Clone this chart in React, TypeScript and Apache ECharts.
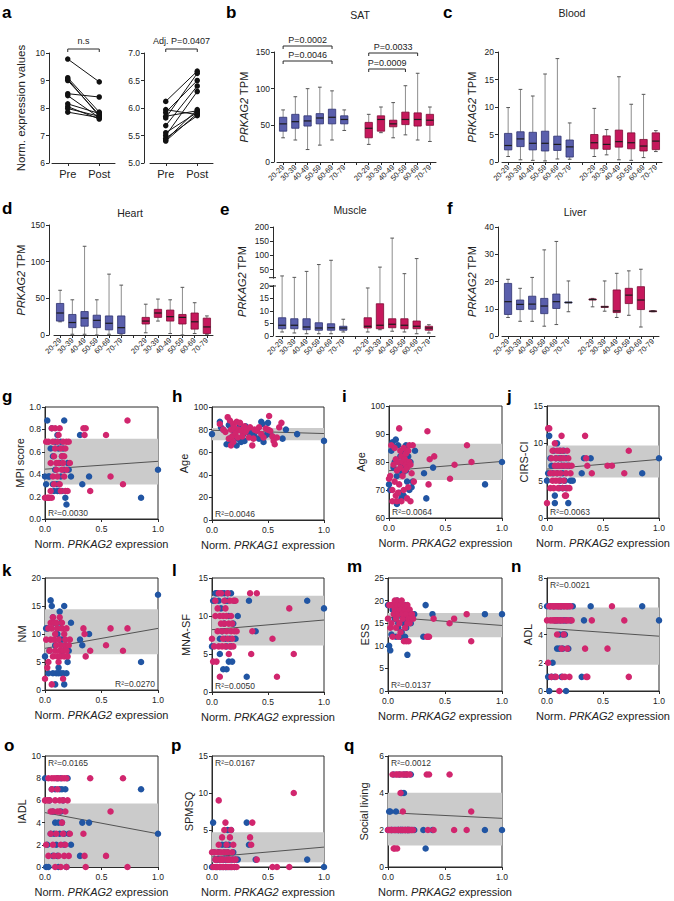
import React, { useEffect, useRef } from 'react';
import * as echarts from 'echarts';

const FONT = "'Liberation Sans', Arial, Helvetica, sans-serif";
const AXIS = '#2b2b2b';
const TXT = '#222222';
const BLUE_BOX = '#5a5fac';
const BLUE_EDGE = '#2f3270';
const RED_BOX = '#c6185c';
const RED_EDGE = '#7d0c35';
const WHISKER = '#8d8d8d';
const CAP = '#555555';
const MEDIAN = '#1c1c1c';
const BLUE_DOT = '#2155a3';
const MAG_DOT = '#d1266e';
const BAND = '#cbcbcb';

// ---------- Panel a ----------
const A_TIMEPOINTS = ['Pre', 'Post'];
const A_LEFT_PRE = [9.78, 9.1, 9.05, 9.0, 8.52, 8.45, 8.15, 8.05, 7.98, 7.85];
const A_LEFT_POST = [8.95, 7.85, 7.7, 7.75, 8.4, 7.65, 7.8, 7.6, 7.7, 7.65];
const A_RIGHT_PRE = [6.12, 5.97, 5.92, 5.85, 5.82, 5.68, 5.55, 5.5, 5.45, 5.42, 5.4];
const A_RIGHT_POST = [6.67, 5.88, 6.5, 5.95, 6.63, 6.4, 5.92, 6.3, 5.86, 5.97, 5.9];

// ---------- Box panels (min, q1, median, q3, max) ----------
const AGE_GROUPS = ['20-29', '30-39', '40-49', '50-59', '60-69', '70-79'];
const BOX_LABELS = [...AGE_GROUPS, '', ...AGE_GROUPS];

const SAT_BLUE = [[33, 42, 52, 61, 71], [30, 46, 55, 65, 89], [17, 49, 56, 63, 100], [23, 52, 60, 66, 102], [30, 52, 61, 72, 97], [43, 52, 58, 63, 71]];
const SAT_RED = [[24, 33, 46, 54, 65], [40, 42, 58, 63, 75], [33, 48, 52, 57, 81], [37, 51, 58, 68, 104], [30, 49, 58, 67, 121], [28, 50, 57, 65, 75]];
const BLOOD_BLUE = [[1.0, 2.2, 3.0, 5.2, 9.9], [0.4, 2.8, 4.2, 5.5, 13.2], [0.3, 2.2, 3.4, 5.4, 12.0], [0.2, 2.0, 3.4, 5.6, 16.0], [0.55, 2.1, 3.2, 4.7, 18.8], [0.5, 0.9, 2.75, 4.0, 7.1]];
const BLOOD_RED = [[1.0, 2.4, 3.5, 5.0, 9.75], [1.3, 2.3, 3.2, 4.75, 5.9], [0.4, 2.7, 3.7, 5.8, 15.5], [0.3, 2.4, 3.5, 5.3, 10.5], [0.8, 2.0, 2.9, 4.1, 12.3], [1.9, 2.25, 3.8, 5.3, 5.7]];
const HEART_BLUE = [[18, 19, 30, 43, 61], [1, 10, 17, 28, 48], [1, 12, 23, 32, 121], [0, 10, 20, 27, 48], [1, 7, 16, 26, 83], [0, 2, 10, 26, 68]];
const HEART_RED = [[3, 15, 19, 24, 42], [19, 24, 30, 35, 49], [2, 19, 25, 34, 48], [0, 15, 24, 28, 65], [2, 8, 18, 30, 44], [1, 2, 11, 23, 26]];
const MUSCLE_BLUE = [[1.6, 2.9, 4.3, 7.3, 28], [1.2, 2.9, 4.3, 6.9, 23], [0.9, 2.5, 3.6, 6.9, 44], [0.9, 2.3, 3.2, 5.3, 68], [0.9, 2.3, 3.3, 4.9, 83], [1.6, 2.3, 3.2, 3.9, 6.7]];
const MUSCLE_RED = [[1.6, 3.2, 3.9, 7.3, 19.2], [2.5, 2.9, 4.3, 12.9, 59], [1.9, 3.3, 4.7, 6.9, 161], [1.6, 2.9, 4.3, 6.9, 36], [0.9, 2.9, 3.9, 6.0, 89], [1.2, 2.3, 3.2, 3.9, 4.5]];
const LIVER_BLUE = [[6.8, 7.9, 12.6, 19.3, 20.8], [5.4, 9.7, 11.6, 13.2, 17.5], [5.4, 9.8, 11.7, 14.6, 21.5], [3.6, 8.2, 11.0, 13.8, 31.6], [4.2, 10.1, 12.6, 15.4, 34.7], [8.9, 12.1, 12.3, 12.5, 20.2]];
const LIVER_RED = [[10.7, 13.2, 13.4, 13.6, 13.8], [9.1, 10.5, 10.7, 10.9, 20.2], [6.8, 8.6, 9.2, 16.9, 23.0], [7.6, 11.9, 15.0, 17.5, 23.9], [3.3, 9.7, 13.2, 18.1, 24.5], [8.9, 9.0, 9.1, 9.2, 9.3]];
const MUSCLE_TICKS = [0, 5, 10, 15, 20, 50, 100, 150, 200];

// ---------- Scatter panels ----------
const X_BLUE = [0.00, 0.01, 0.02, 0.03, 0.04, 0.05, 0.06, 0.07, 0.07, 0.08, 0.09, 0.09, 0.10, 0.11, 0.11, 0.12, 0.12, 0.13, 0.13, 0.14, 0.14, 0.15, 0.15, 0.16, 0.17, 0.17, 0.18, 0.19, 0.20, 0.21, 0.23, 0.31, 0.33, 0.39, 0.85, 1.00];
const X_MAG = [0.00, 0.01, 0.02, 0.03, 0.03, 0.04, 0.05, 0.05, 0.06, 0.06, 0.07, 0.07, 0.08, 0.08, 0.09, 0.09, 0.10, 0.10, 0.11, 0.11, 0.12, 0.12, 0.13, 0.13, 0.14, 0.14, 0.15, 0.15, 0.16, 0.16, 0.17, 0.17, 0.18, 0.18, 0.19, 0.19, 0.20, 0.21, 0.22, 0.34, 0.35, 0.36, 0.40, 0.54, 0.58, 0.69, 0.73];

const MPI_BLUE = [0.38, 0.31, 0.88, 0.38, 0.38, 0.63, 0.81, 0.31, 0.56, 0.25, 0.69, 0.44, 0.31, 0.75, 0.25, 0.31, 0.63, 0.50, 0.25, 0.69, 0.38, 0.25, 0.56, 0.63, 0.44, 0.88, 0.19, 0.13, 0.50, 0.44, 0.38, 0.75, 0.31, 0.38, 0.19, 0.44];
const MPI_MAG = [0.19, 0.69, 0.19, 0.19, 0.69, 0.19, 0.50, 0.25, 0.19, 0.81, 0.38, 0.69, 0.56, 0.31, 0.81, 0.63, 0.44, 0.50, 0.69, 0.38, 0.50, 0.75, 0.81, 0.31, 0.63, 0.25, 0.56, 0.44, 0.69, 0.50, 0.38, 0.56, 0.63, 0.25, 0.69, 0.44, 0.25, 0.69, 0.50, 0.81, 0.75, 0.81, 0.25, 0.75, 0.38, 0.31, 0.88];
const AGE_BLUE = [72, 70, 84, 87, 78, 80, 88, 75, 65, 86, 77, 69, 82, 79, 67, 84, 76, 80, 68, 78, 83, 86, 77, 73, 79, 82, 70, 80, 71, 73, 84, 76, 67, 78, 72, 80];
const AGE_MAG = [74, 75, 86, 70, 66, 79, 73, 85, 68, 81, 66, 77, 80, 69, 92, 72, 84, 78, 66, 82, 80, 75, 70, 85, 81, 77, 79, 83, 67, 78, 84, 71, 80, 86, 66, 79, 76, 86, 73, 91, 72, 81, 82, 74, 79, 86, 80];
const CIRS_BLUE = [5, 6, 11, 8, 7, 6, 9, 3, 2, 8, 10, 6, 7, 8, 4, 9, 5, 7, 8, 4, 6, 9, 7, 5, 8, 4, 7, 2, 7, 5, 5, 6, 8, 8, 6, 8];
const CIRS_MAG = [2, 12, 12, 6, 4, 8, 5, 9, 6, 4, 10, 7, 5, 8, 9, 6, 7, 4, 5, 9, 8, 6, 11, 7, 4, 9, 8, 5, 3, 7, 6, 3, 9, 4, 8, 7, 4, 6, 7, 11, 8, 7, 6, 7, 7, 6, 9];
const NM_BLUE = [6, 11, 11, 3, 7, 16, 15, 3, 13, 12, 8, 1, 3, 10, 11, 3, 4, 9, 14, 12, 3, 7, 9, 3, 15, 1, 8, 3, 5, 7, 12, 9, 8, 10, 5, 17];
const NM_MAG = [2, 9, 4, 11, 5, 7, 9, 12, 1, 11, 13, 6, 9, 12, 10, 7, 12, 8, 6, 11, 9, 5, 13, 7, 6, 8, 11, 12, 2, 7, 10, 6, 9, 8, 7, 11, 6, 8, 9, 11, 10, 6, 7, 8, 11, 7, 11];
const MNA_BLUE = [6, 12, 12, 13, 13, 13, 12, 7, 5, 11, 13, 8, 3, 13, 9, 12, 7, 6, 3, 13, 12, 4, 10, 7, 6, 13, 4, 9, 12, 7, 10, 2, 12, 8, 12, 11];
const MNA_MAG = [7, 4, 6, 12, 10, 4, 8, 11, 13, 6, 10, 2, 9, 13, 6, 8, 10, 7, 12, 9, 6, 11, 8, 10, 7, 13, 5, 9, 6, 12, 8, 10, 7, 9, 12, 6, 8, 12, 8, 13, 5, 8, 13, 7, 2, 11, 5];
const ESS_BLUE = [19, 10, 9, 12.5, 18, 19, 16, 12, 18, 20, 14, 15, 17, 12, 19, 18, 13, 16, 18, 15, 17, 12, 19, 14, 16, 8, 17, 16, 15, 17, 17, 12, 19, 17, 17, 17];
const ESS_MAG = [16, 19, 14, 15, 19, 12, 17, 19, 20, 18, 16, 14, 20, 19, 12, 17, 18, 15, 19, 13, 18, 20, 16, 17, 11, 19, 18, 14, 11, 17, 15, 19, 16, 11, 18, 15, 16, 17, 16, 12, 12, 12, 16, 15, 16, 17, 11];
const ADL_BLUE = [6, 1, 0, 6, 1, 2, 6, 5, 1, 6, 3, 5, 6, 4, 3, 6, 5, 1, 6, 4, 3, 5, 6, 4, 5, 0, 6, 3, 6, 5, 6, 1, 5, 6, 6, 5];
const ADL_MAG = [5, 2, 6, 5, 6, 1, 6, 5, 6, 6, 5, 6, 1, 5, 6, 4, 6, 5, 6, 0, 6, 5, 3, 6, 1, 5, 6, 4, 6, 1, 5, 6, 3, 6, 5, 6, 1, 6, 5, 3, 1, 1, 5, 3, 6, 5, 1];
const IADL_BLUE = [8, 0, 2, 0, 6, 3, 7, 5, 1, 3, 4, 7, 2, 8, 1, 4, 0, 7, 3, 5, 8, 4, 7, 6, 3, 2, 7, 0, 8, 3, 2, 1, 4, 4, 7, 3];
const IADL_MAG = [6, 2, 6, 1, 8, 6, 3, 5, 7, 8, 5, 2, 8, 1, 6, 0, 8, 3, 5, 7, 1, 8, 6, 5, 0, 2, 8, 4, 3, 6, 1, 8, 2, 5, 0, 8, 6, 1, 3, 3, 1, 0, 8, 1, 5, 8, 0];
const SPMSQ_BLUE = [0, 6, 2, 1, 0, 1, 2, 0, 1, 0, 1, 3, 0, 2, 1, 0, 3, 0, 1, 2, 5, 3, 1, 0, 0, 5, 1, 2, 0, 1, 1, 6, 3, 1, 1, 0];
const SPMSQ_MAG = [2, 0, 2, 1, 0, 1, 2, 0, 3, 9, 1, 0, 2, 1, 0, 4, 1, 0, 5, 2, 0, 6, 1, 3, 0, 2, 1, 0, 4, 1, 0, 5, 2, 0, 1, 3, 0, 1, 0, 4, 3, 6, 1, 0, 0, 0, 10];
const SOCIAL_BLUE = [2, 3, 3, 2, 2, 5, 2, 2, 3, 2, 2, 2, 5, 2, 2, 2, 4, 2, 2, 5, 4, 2, 2, 5, 2, 2, 2, 2, 5, 2, 2, 2, 1, 2, 2, 2];
const SOCIAL_MAG = [2, 2, 2, 2, 2, 5, 2, 1, 2, 1, 5, 2, 1, 5, 2, 2, 5, 2, 4, 2, 5, 2, 3, 2, 2, 5, 2, 2, 5, 2, 2, 5, 2, 2, 5, 2, 2, 2, 2, 5, 2, 5, 2, 5, 2, 2, 3];

const H_BLUE_X = [0.00, 0.07, 0.08, 0.10, 0.13, 0.15, 0.16, 0.17, 0.18, 0.19, 0.20, 0.21, 0.22, 0.23, 0.25, 0.26, 0.27, 0.28, 0.29, 0.30, 0.32, 0.34, 0.36, 0.38, 0.40, 0.42, 0.44, 0.45, 0.46, 0.48, 0.50, 0.52, 0.55, 0.63, 0.66, 0.76, 1.00];
const H_BLUE_Y = [76, 87, 82, 80, 67, 84, 72, 70, 68, 74, 78, 79, 66, 72, 84, 69, 80, 76, 70, 83, 78, 78, 77, 74, 79, 72, 87, 85, 69, 75, 86, 76, 73, 72, 80, 76, 70];
const H_MAG_X = [0.07, 0.10, 0.12, 0.14, 0.15, 0.16, 0.17, 0.17, 0.18, 0.19, 0.19, 0.20, 0.21, 0.22, 0.23, 0.24, 0.25, 0.26, 0.27, 0.28, 0.29, 0.30, 0.31, 0.33, 0.34, 0.36, 0.37, 0.38, 0.40, 0.42, 0.44, 0.46, 0.48, 0.50, 0.51, 0.52, 0.54, 0.55, 0.56, 0.58, 0.60, 0.62];
const H_MAG_Y = [85, 80, 78, 91, 72, 88, 66, 80, 74, 85, 69, 82, 77, 87, 73, 80, 86, 79, 74, 81, 83, 78, 80, 73, 82, 66, 72, 80, 79, 82, 76, 73, 81, 80, 92, 79, 74, 70, 67, 73, 82, 86];

// regression line (y at x=0, y at x=1) and grey band (low, high)
const MPI_FIT = [0.445, 0.515], MPI_BAND = [0.307, 0.717];
const AGE1_FIT = [79.4, 76.5], AGE1_BAND = [70.5, 81.5];
const AGE_FIT = [76.9, 80.2], AGE_BAND = [73.6, 86.5];
const CIRS_FIT = [6.55, 7.85], CIRS_BAND = [5.43, 9.7];
const NM_FIT = [7.44, 11.0], NM_BAND = [6.4, 14.4];
const MNA_FIT = [8.2, 9.47], MNA_BAND = [6.13, 12.67];
const ESS_FIT = [16.35, 14.5], ESS_BAND = [11.9, 17.25];
const ADL_FIT = [4.44, 3.88], ADL_BAND = [1.85, 5.92];
const IADL_FIT = [4.9, 2.99], IADL_BAND = [0, 5.73];
const SPMSQ_FIT = [1.36, 2.69], SPMSQ_BAND = [0.63, 4.7];
const SOCIAL_FIT = [2.94, 2.63], SOCIAL_BAND = [1.16, 4.01];

function muscleScale(v: number) {
  if (v <= 20) return v;
  if (v <= 22) return 20 + (v - 20) * 1.665;
  return 23.33 + (v - 22) * 0.11378;
}

function buildOption() {
  const grid: any[] = [];
  const xAxis: any[] = [];
  const yAxis: any[] = [];
  const series: any[] = [];
  const graphic: any[] = [];

  const axLine = { show: true, onZero: false, lineStyle: { color: AXIS, width: 1 } };
  const tick = { show: true, length: 3, lineStyle: { color: AXIS, width: 1 } };
  const lab = (size: number, extra: any = {}) => ({ fontSize: size, color: TXT, fontFamily: FONT, ...extra });
  const text = (t: string, x: number, y: number, size: number, opts: any = {}) => ({
    type: 'text', x, y, z: 100, silent: true,
    style: { text: t, fill: TXT, fontSize: size, fontFamily: FONT, align: 'center', verticalAlign: 'middle', ...opts },
  });
  const addGrid = (g: any) => {
    grid.push(g);
    return grid.length - 1;
  };
  const bracket = (x0: number, x1: number, y: number, t: string, ty: number) => {
    graphic.push({ type: 'polyline', z: 100, silent: true, shape: { points: [[x0, y + 3], [x0, y], [x1, y], [x1, y + 3]] }, style: { stroke: AXIS, lineWidth: 1, fill: 'none' } });
    graphic.push(text(t, (x0 + x1) / 2, ty, 9));
  };

  // ---- panel a ----
  const aPanels = [
    { left: 52, offset: 3, pre: A_LEFT_PRE, post: A_LEFT_POST, min: 6, max: 10, interval: 1, dec: 0, name: 'Norm. expression values', note: 'n.s' },
    { left: 150, offset: 6, pre: A_RIGHT_PRE, post: A_RIGHT_POST, min: 5, max: 7, interval: 0.5, dec: 1, name: '', note: 'Adj. P=0.0407' },
  ];
  aPanels.forEach((p) => {
    const w = 63;
    const gi = addGrid({ left: p.left, top: 53, width: w, height: 110 });
    xAxis.push({ gridIndex: gi, type: 'category', data: A_TIMEPOINTS, axisLine: axLine, axisTick: { ...tick, alignWithLabel: true }, axisLabel: lab(11, { margin: 5 }), splitLine: { show: false } });
    yAxis.push({
      gridIndex: gi, type: 'value', min: p.min, max: p.max, interval: p.interval, offset: p.offset,
      axisLine: axLine, axisTick: tick, splitLine: { show: false },
      axisLabel: lab(8.5, { margin: 4, formatter: (v: number) => v.toFixed(p.dec) }),
      name: p.name, nameLocation: 'middle', nameGap: 22, nameTextStyle: lab(11.5),
    });
    p.pre.forEach((v, i) => {
      series.push({
        type: 'line', xAxisIndex: gi, yAxisIndex: gi, data: [v, p.post[i]], symbol: 'circle', symbolSize: 5.5,
        itemStyle: { color: '#111' }, lineStyle: { color: '#111', width: 1 }, silent: true, z: 3,
      });
    });
    const band = w / 2;
    bracket(p.left + band / 2, p.left + band * 1.5, 49, p.note, 41);
  });

  // ---- box panels ----
  const boxRender = (_params: any, api: any) => {
    const c = api.value(0);
    const lo = api.coord([c, api.value(1)]);
    const q1 = api.coord([c, api.value(2)]);
    const md = api.coord([c, api.value(3)]);
    const q3 = api.coord([c, api.value(4)]);
    const hi = api.coord([c, api.value(5)]);
    const grp = api.value(6);
    const x = lo[0];
    const bw = api.size([1, 0])[0] * 0.6;
    const cw = bw * 0.5;
    const fill = grp === 0 ? BLUE_BOX : RED_BOX;
    const stroke = grp === 0 ? BLUE_EDGE : RED_EDGE;
    return {
      type: 'group',
      children: [
        { type: 'line', shape: { x1: x, y1: hi[1], x2: x, y2: q3[1] }, style: { stroke: WHISKER, lineWidth: 1 } },
        { type: 'line', shape: { x1: x, y1: q1[1], x2: x, y2: lo[1] }, style: { stroke: WHISKER, lineWidth: 1 } },
        { type: 'line', shape: { x1: x - cw / 2, y1: hi[1], x2: x + cw / 2, y2: hi[1] }, style: { stroke: CAP, lineWidth: 1 } },
        { type: 'line', shape: { x1: x - cw / 2, y1: lo[1], x2: x + cw / 2, y2: lo[1] }, style: { stroke: CAP, lineWidth: 1 } },
        { type: 'rect', shape: { x: x - bw / 2, y: q3[1], width: bw, height: Math.max(q1[1] - q3[1], 0.8) }, style: { fill, stroke, lineWidth: 0.8 } },
        { type: 'line', shape: { x1: x - bw / 2, y1: md[1], x2: x + bw / 2, y2: md[1] }, style: { stroke: MEDIAN, lineWidth: 1.2 } },
      ],
    };
  };

  const BOX_PANELS: any[] = [
    { title: 'SAT', tx: 360, ty: 15, left: 277, top: 52, width: 159, height: 110, offset: 3, nameGap: 25, min: 0, max: 150, interval: 50, blue: SAT_BLUE, red: SAT_RED,
      brackets: [
        { t: 'P=0.0002', i0: 0, i1: 4, y: 46 },
        { t: 'P=0.0046', i0: 0, i1: 4, y: 61 },
        { t: 'P=0.0033', i0: 7, i1: 11, y: 53 },
        { t: 'P=0.0009', i0: 7, i1: 10, y: 69 },
      ] },
    { title: 'Blood', tx: 572, ty: 13, left: 502, top: 52, width: 160, height: 110, offset: 4, nameGap: 21, min: 0, max: 20, interval: 5, blue: BLOOD_BLUE, red: BLOOD_RED },
    { title: 'Heart', tx: 130, ty: 213, left: 54, top: 225, width: 159, height: 110, offset: 5, nameGap: 21, min: 0, max: 150, interval: 50, blue: HEART_BLUE, red: HEART_RED },
    { title: 'Muscle', tx: 350, ty: 210, left: 276, top: 227, width: 159, height: 109, offset: 3, nameGap: 26, broken: true, blue: MUSCLE_BLUE, red: MUSCLE_RED },
    { title: 'Liver', tx: 575, ty: 212, left: 502, top: 227, width: 157, height: 109, offset: 4, nameGap: 21, min: 0, max: 40, interval: 10, blue: LIVER_BLUE, red: LIVER_RED },
  ];

  BOX_PANELS.forEach((p) => {
    const gi = addGrid({ left: p.left, top: p.top, width: p.width, height: p.height });
    xAxis.push({
      gridIndex: gi, type: 'category', data: BOX_LABELS.map((_, i) => 'k' + i), boundaryGap: true,
      axisLine: axLine, axisTick: { ...tick, alignWithLabel: true, interval: 0 },
      axisLabel: lab(7.5, { rotate: 45, interval: 0, margin: 4, formatter: (_v: any, i: number) => BOX_LABELS[i] }),
      splitLine: { show: false },
    });
    const tf = p.broken ? muscleScale : (v: number) => v;
    const yA: any = {
      gridIndex: gi, type: 'value', offset: p.offset, axisLine: axLine, axisTick: tick, splitLine: { show: false },
      name: '{i|PRKAG2} TPM', nameLocation: 'middle', nameGap: p.nameGap,
      nameTextStyle: lab(11, { rich: { i: { fontStyle: 'italic', fontSize: 11, fontFamily: FONT, color: TXT } } }),
    };
    if (p.broken) {
      const mt = MUSCLE_TICKS.map(muscleScale);
      yA.min = 0;
      yA.max = muscleScale(200);
      yA.axisLabel = lab(8.5, {
        margin: 4, customValues: mt,
        formatter: (v: number) => {
          let best = 0;
          mt.forEach((t, i) => { if (Math.abs(t - v) < Math.abs(mt[best] - v)) best = i; });
          return String(MUSCLE_TICKS[best]);
        },
      });
      yA.axisTick = { ...tick, customValues: mt };
      // break marks on the axis
      const ax = p.left - p.offset;
      const yPix = (d: number) => p.top + p.height * (1 - d / yA.max);
      const yA0 = yPix(23.33), yB0 = yPix(20);
      graphic.push({ type: 'rect', z: 100, silent: true, shape: { x: ax - 2, y: yA0 + 1, width: 4, height: yB0 - yA0 - 2 }, style: { fill: '#fff' } });
      graphic.push({ type: 'line', z: 101, silent: true, shape: { x1: ax - 4, y1: yA0, x2: ax + 3, y2: yA0 }, style: { stroke: AXIS, lineWidth: 1 } });
      graphic.push({ type: 'line', z: 101, silent: true, shape: { x1: ax - 4, y1: yB0, x2: ax + 3, y2: yB0 }, style: { stroke: AXIS, lineWidth: 1 } });
    } else {
      yA.min = p.min;
      yA.max = p.max;
      yA.interval = p.interval;
      yA.axisLabel = lab(8.5, { margin: 4 });
    }
    yAxis.push(yA);

    const data: any[] = [];
    p.blue.forEach((s: number[], i: number) => data.push([i, ...s.map(tf), 0]));
    p.red.forEach((s: number[], i: number) => data.push([i + 7, ...s.map(tf), 1]));
    series.push({ type: 'custom', xAxisIndex: gi, yAxisIndex: gi, data, renderItem: boxRender, encode: { x: 0, y: [1, 2, 3, 4, 5] }, silent: true, z: 3 });

    graphic.push(text(p.title, p.tx, p.ty, 10.5));
    if (p.brackets) {
      const bandW = p.width / 13;
      p.brackets.forEach((b: any) => {
        const x0 = p.left + (b.i0 + 0.5) * bandW;
        const x1 = p.left + (b.i1 + 0.5) * bandW;
        bracket(x0, x1, b.y, b.t, b.y - 6);
      });
    }
  });

  // ---- scatter panels ----
  const SC: any[] = [
    { left: 45, top: 407, width: 113, height: 112, yName: 'MPI score', nameGap: 17, min: 0, max: 1, interval: 0.2, dec: 1, bx: X_BLUE, by: MPI_BLUE, mx: X_MAG, my: MPI_MAG, fit: MPI_FIT, band: MPI_BAND, r2: 'R²=0.0030', pos: 'bl', gene: 'PRKAG2' },
    { left: 212, top: 407, width: 112, height: 113, yName: 'Age', nameGap: 20, min: 0, max: 100, interval: 20, dec: 0, bx: H_BLUE_X, by: H_BLUE_Y, mx: H_MAG_X, my: H_MAG_Y, fit: AGE1_FIT, band: AGE1_BAND, r2: 'R²=0.0046', pos: 'bl', gene: 'PRKAG1' },
    { left: 389, top: 406, width: 113, height: 112, yName: 'Age', nameGap: 20, min: 60, max: 100, interval: 10, dec: 0, bx: X_BLUE, by: AGE_BLUE, mx: X_MAG, my: AGE_MAG, fit: AGE_FIT, band: AGE_BAND, r2: 'R²=0.0064', pos: 'bl', gene: 'PRKAG2' },
    { left: 547, top: 406, width: 112, height: 112, yName: 'CIRS-CI', nameGap: 17, min: 0, max: 15, interval: 5, dec: 0, bx: X_BLUE, by: CIRS_BLUE, mx: X_MAG, my: CIRS_MAG, fit: CIRS_FIT, band: CIRS_BAND, r2: 'R²=0.0063', pos: 'bl', gene: 'PRKAG2' },
    { left: 45, top: 578, width: 113, height: 112, yName: 'NM', nameGap: 17, min: 0, max: 20, interval: 5, dec: 0, bx: X_BLUE, by: NM_BLUE, mx: X_MAG, my: NM_MAG, fit: NM_FIT, band: NM_BAND, r2: 'R²=0.0270', pos: 'br', gene: 'PRKAG2' },
    { left: 212, top: 578, width: 112, height: 114, yName: 'MNA-SF', nameGap: 21, min: 0, max: 15, interval: 5, dec: 0, bx: X_BLUE, by: MNA_BLUE, mx: X_MAG, my: MNA_MAG, fit: MNA_FIT, band: MNA_BAND, r2: 'R²=0.0050', pos: 'bl', gene: 'PRKAG2' },
    { left: 388, top: 578, width: 114, height: 113, yName: 'ESS', nameGap: 17, min: 0, max: 25, interval: 5, dec: 0, bx: X_BLUE, by: ESS_BLUE, mx: X_MAG, my: ESS_MAG, fit: ESS_FIT, band: ESS_BAND, r2: 'R²=0.0137', pos: 'bl', gene: 'PRKAG2' },
    { left: 547, top: 578, width: 112, height: 113, yName: 'ADL', nameGap: 14, min: 0, max: 8, interval: 2, dec: 0, bx: X_BLUE, by: ADL_BLUE, mx: X_MAG, my: ADL_MAG, fit: ADL_FIT, band: ADL_BAND, r2: 'R²=0.0021', pos: 'tl', gene: 'PRKAG2' },
    { left: 45, top: 756, width: 113, height: 111, yName: 'IADL', nameGap: 17, min: 0, max: 10, interval: 2, dec: 0, bx: X_BLUE, by: IADL_BLUE, mx: X_MAG, my: IADL_MAG, fit: IADL_FIT, band: IADL_BAND, r2: 'R²=0.0165', pos: 'tl', gene: 'PRKAG2' },
    { left: 212, top: 756, width: 112, height: 111, yName: 'SPMSQ', nameGap: 18, min: 0, max: 15, interval: 5, dec: 0, bx: X_BLUE, by: SPMSQ_BLUE, mx: X_MAG, my: SPMSQ_MAG, fit: SPMSQ_FIT, band: SPMSQ_BAND, r2: 'R²=0.0167', pos: 'tl', gene: 'PRKAG2' },
    { left: 388, top: 756, width: 114, height: 111, yName: 'Social living', nameGap: 19, min: 0, max: 6, interval: 2, dec: 0, bx: X_BLUE, by: SOCIAL_BLUE, mx: X_MAG, my: SOCIAL_MAG, fit: SOCIAL_FIT, band: SOCIAL_BAND, r2: 'R²=0.0012', pos: 'tl', gene: 'PRKAG2' },
  ];

  SC.forEach((p) => {
    const gi = addGrid({ left: p.left, top: p.top, width: p.width, height: p.height, show: true, borderColor: AXIS, borderWidth: 1, backgroundColor: 'transparent' });
    xAxis.push({
      gridIndex: gi, type: 'value', min: 0, max: 1, interval: 0.5,
      axisLine: axLine, axisTick: tick, splitLine: { show: false },
      axisLabel: lab(8.5, { margin: 5, formatter: (v: number) => v.toFixed(1) }),
      name: `Norm. {i|${p.gene}} expression`, nameLocation: 'middle', nameGap: 19,
      nameTextStyle: lab(11, { rich: { i: { fontStyle: 'italic', fontSize: 11, fontFamily: FONT, color: TXT } } }),
    });
    yAxis.push({
      gridIndex: gi, type: 'value', min: p.min, max: p.max, interval: p.interval,
      axisLine: axLine, axisTick: tick, splitLine: { show: false },
      axisLabel: lab(8.5, { margin: 4, formatter: (v: number) => v.toFixed(p.dec) }),
      name: p.yName, nameLocation: 'middle', nameGap: p.nameGap, nameTextStyle: lab(11),
    });
    series.push({
      type: 'line', xAxisIndex: gi, yAxisIndex: gi, data: [[0, p.fit[0]], [1, p.fit[1]]], symbol: 'none', silent: true, z: 2,
      lineStyle: { color: '#333', width: 0.8 },
      markArea: { silent: true, itemStyle: { color: BAND }, data: [[{ yAxis: p.band[0] }, { yAxis: p.band[1] }]] },
    });
    series.push({
      type: 'scatter', xAxisIndex: gi, yAxisIndex: gi, data: p.bx.map((x: number, i: number) => [x, p.by[i]]),
      symbolSize: 6.5, itemStyle: { color: BLUE_DOT, opacity: 1 }, clip: false, silent: true, z: 3,
    });
    series.push({
      type: 'scatter', xAxisIndex: gi, yAxisIndex: gi, data: p.mx.map((x: number, i: number) => [x, p.my[i]]),
      symbolSize: 6.5, itemStyle: { color: MAG_DOT, opacity: 1 }, clip: false, silent: true, z: 3,
    });
    let tx = p.left + 3, ty = p.top + p.height - 2, align = 'left', va = 'bottom';
    if (p.pos === 'br') { tx = p.left + p.width - 3; align = 'right'; }
    if (p.pos === 'tl') { ty = p.top + 2; va = 'top'; }
    graphic.push(text(p.r2, tx, ty, 8.5, { align, verticalAlign: va, fill: '#333' }));
  });

  // ---- panel letters ----
  const LETTERS: [string, number, number][] = [
    ['a', 2, 12], ['b', 226, 12], ['c', 443, 12],
    ['d', 2, 208], ['e', 220, 209], ['f', 447, 208],
    ['g', 2, 396], ['h', 172, 396], ['i', 342, 396], ['j', 507, 396],
    ['k', 2, 570], ['l', 172, 570], ['m', 347, 566], ['n', 511, 566],
    ['o', 4, 745], ['p', 171, 745], ['q', 344, 745],
  ];
  LETTERS.forEach(([t, x, y]) => graphic.push(text(t, x, y, 17, { align: 'left', fontWeight: 'bold', fill: '#000' })));

  return {
    animation: false,
    backgroundColor: '#fff',
    textStyle: { fontFamily: FONT },
    grid, xAxis, yAxis, series, graphic,
  };
}

export default function App() {
  const ref = useRef<HTMLDivElement>(null);
  useEffect(() => {
    const chart = echarts.init(ref.current!, null, { renderer: 'svg' });
    chart.setOption(buildOption() as any);
    return () => chart.dispose();
  }, []);
  return <div ref={ref} style={{ position: 'absolute', left: 0, top: 0, width: 674, height: 901, background: '#fff' }} />;
}
